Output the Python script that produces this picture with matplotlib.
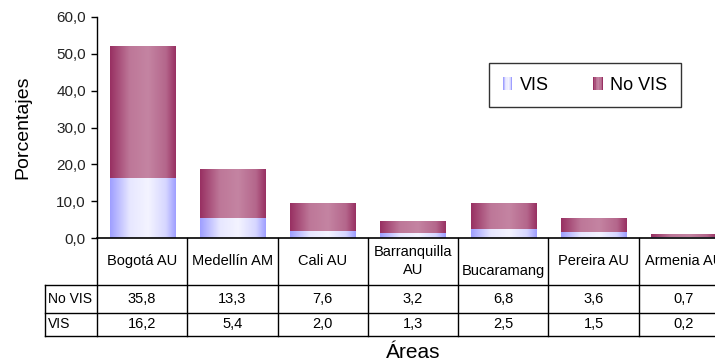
import numpy as np
import matplotlib.pyplot as plt
from matplotlib.patches import Patch, Rectangle
from matplotlib.legend_handler import HandlerBase

plt.rcParams['font.family'] = ['Liberation Sans', 'DejaVu Sans']

# categorias y porcentajes
areas = ["Bogotá AU", "Medellín AM", "Cali AU", "Barranquilla\nAU",
         "Bucaramang", "Pereira AU", "Armenia AU"]
no_vis = [35.8, 13.3, 7.6, 3.2, 6.8, 3.6, 0.7]
vis = [16.2, 5.4, 2.0, 1.3, 2.5, 1.5, 0.2]

vis_edge = np.array([158, 158, 255]) / 255
vis_mid = np.array([244, 244, 255]) / 255
novis_edge = np.array([152, 48, 98]) / 255
novis_mid = np.array([196, 132, 162]) / 255


def gradient(edge, mid, n=200):
    t = np.linspace(0, 1, n)
    w = np.interp(t, [0, 0.3, 0.58, 0.85, 1], [0, 0.85, 1, 0.65, 0])
    return (edge[None, :] * (1 - w[:, None]) + mid[None, :] * w[:, None])[None, :, :]


class GradientHandler(HandlerBase):
    # cuadro de leyenda con franjas verticales
    def __init__(self, grad):
        super().__init__()
        self.grad = grad[0]

    def create_artists(self, legend, orig, xd, yd, w, h, fontsize, trans):
        n = 8
        idx = np.linspace(0, len(self.grad) - 1, n).astype(int)
        out = []
        for i, k in enumerate(idx):
            out.append(Rectangle((-xd + w * i / n, -yd), w / n, h,
                                 facecolor=self.grad[k], edgecolor='none',
                                 transform=trans))
        return out


W, H = 715, 362
fig = plt.figure(figsize=(W / 100, H / 100), dpi=100)
x0, x1, yb, yt = 97, 729, 238, 17
ax = fig.add_axes([x0 / W, 1 - yb / H, (x1 - x0) / W, (yb - yt) / H])

width = 0.72
x = np.arange(len(areas))
g_vis = gradient(vis_edge, vis_mid)
g_novis = gradient(novis_edge, novis_mid)
for xi, v, nv in zip(x, vis, no_vis):
    ax.imshow(g_vis, extent=[xi - width / 2, xi + width / 2, 0, v],
              aspect='auto', interpolation='bilinear', zorder=2)
    ax.imshow(g_novis, extent=[xi - width / 2, xi + width / 2, v, v + nv],
              aspect='auto', interpolation='bilinear', zorder=2)

ax.set_xlim(-0.5, len(areas) - 0.5)
ax.set_ylim(0, 60)
ax.set_yticks(np.arange(0, 61, 10))
ax.set_yticklabels([f"{v:.1f}".replace(".", ",") for v in np.arange(0, 61, 10)],
                   fontsize=11, color='#222222')
ax.tick_params(axis='y', length=4, width=1, pad=4)
ax.set_xticks([])
for s in ['top', 'right']:
    ax.spines[s].set_visible(False)
ax.spines['left'].set_linewidth(1)
ax.spines['bottom'].set_linewidth(1.2)
ax.set_ylabel("Porcentajes", fontsize=14)
ax.yaxis.set_label_coords((31 - x0) / (x1 - x0), 0.5)

# tabla de datos bajo el eje
tr = ax.get_xaxis_transform()
ph = yb - yt
def ay(py):
    return -(py - yb) / ph

rows_y = [285, 313, 336]
left_x = -0.5 + (45 - x0) / 90.3
for py in rows_y:
    ax.plot([left_x, 7.5], [ay(py)] * 2, transform=tr, color='black',
            lw=1, clip_on=False)
for b in np.arange(-0.5, len(areas) + 0.5, 1):
    ax.plot([b, b], [0, ay(336)], transform=tr, color='black', lw=1, clip_on=False)
ax.plot([left_x, left_x], [ay(285), ay(336)], transform=tr, color='black',
        lw=1, clip_on=False)

for xi, name, nv, v in zip(x, areas, no_vis, vis):
    hy = ay(271) if name == "Bucaramang" else ay(261)
    ax.text(xi, hy, name, transform=tr, ha='center', va='center',
            fontsize=10.5, clip_on=False, linespacing=1.3)
    ax.text(xi, ay(299), f"{nv:.1f}".replace(".", ","), transform=tr,
            ha='center', va='center', fontsize=10.5)
    ax.text(xi, ay(324.5), f"{v:.1f}".replace(".", ","), transform=tr,
            ha='center', va='center', fontsize=10.5)
ax.text(left_x + 0.035, ay(299), "No VIS", transform=tr, ha='left',
        va='center', fontsize=10)
ax.text(left_x + 0.035, ay(324.5), "VIS", transform=tr, ha='left',
        va='center', fontsize=10)
ax.text(3.0, ay(352), "Áreas", transform=tr, ha='center', va='center',
        fontsize=15)

h_vis = Patch(label="VIS")
h_novis = Patch(label="No VIS")
leg = ax.legend(handles=[h_vis, h_novis], ncol=2, loc='upper left',
                bbox_to_anchor=((489 - x0) / (x1 - x0), 1 - (106 - yt) / ph,
                                (681 - 489) / (x1 - x0), (149 - 106) / ph),
                mode='expand', fontsize=13, frameon=True, fancybox=False,
                edgecolor='black', handlelength=0.55, handleheight=0.7,
                handletextpad=0.4, borderaxespad=0, borderpad=0.75,
                columnspacing=2.0,
                handler_map={h_vis: GradientHandler(g_vis),
                             h_novis: GradientHandler(g_novis)})
leg.get_frame().set_linewidth(1)

fig.savefig("out.png", dpi=100)
